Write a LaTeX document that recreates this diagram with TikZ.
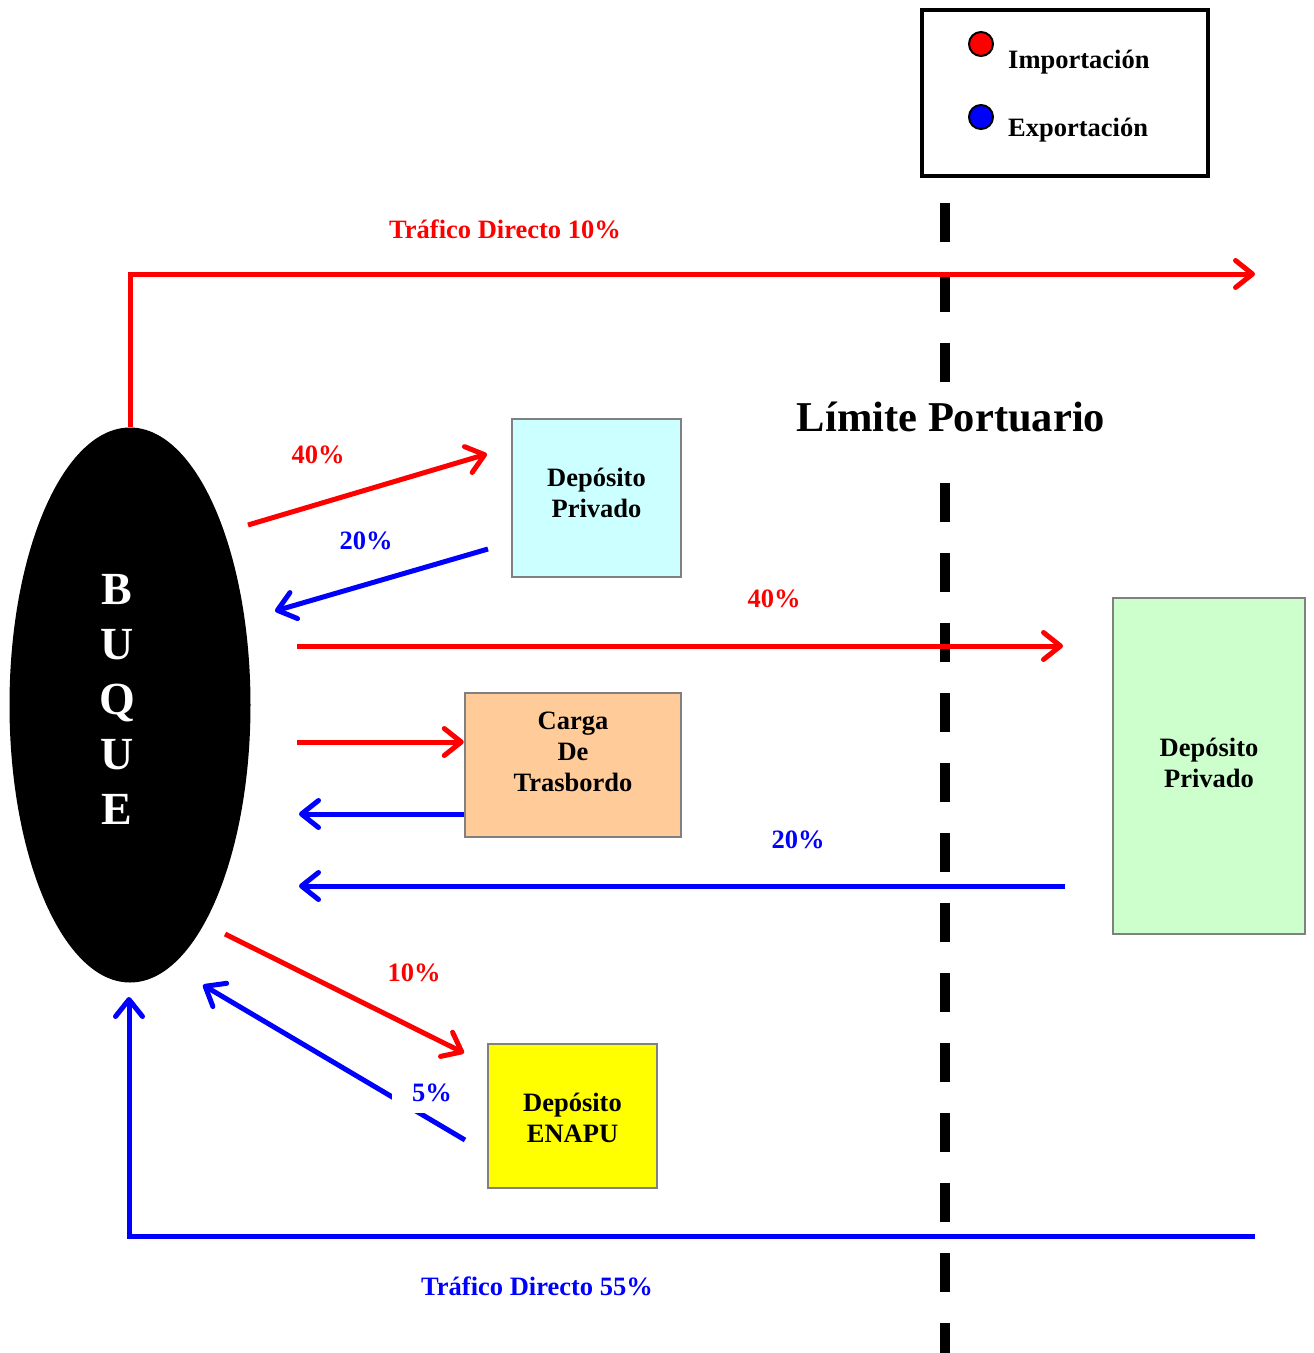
\documentclass[tikz,border=0pt]{standalone}
\usepackage{fontspec}
\setmainfont{Liberation Serif}
\usetikzlibrary{shapes.geometric,arrows.meta}
\definecolor{cyanbox}{HTML}{CCFFFF}
\definecolor{peachbox}{HTML}{FFCC99}
\definecolor{greenbox}{HTML}{CCFFCC}
\definecolor{yellowbox}{HTML}{FFFF00}
\definecolor{boxborder}{HTML}{808080}
\definecolor{impred}{HTML}{FF0000}
\definecolor{expblue}{HTML}{0000FF}
\begin{document}
\begin{tikzpicture}[x=1pt,y=-1pt,
  lbl/.style={font=\fontsize{26.5}{31}\selectfont\bfseries, inner sep=0pt},
  boxtxt/.style={font=\fontsize{26.5}{31}\selectfont\bfseries, align=center, inner sep=0pt},
  depbox/.style={draw=boxborder, line width=2.5pt, inner sep=0pt},
  flow/.style={line width=5pt, -{Straight Barb[length=17pt,width=27pt,round]}},
  imp/.style={draw=impred, text=impred},
  exp/.style={draw=expblue, text=expblue}]
\useasboundingbox (0,0) rectangle (1314,1353);

% Legend
\node[draw=black, line width=4.5pt, minimum width=286, minimum height=166, inner sep=0pt] (legend) at (1065,93) {};
\node[circle, fill=impred, draw=black, line width=2pt, minimum size=24, inner sep=0pt] (legimp) at (981,44) {};
\node[circle, fill=expblue, draw=black, line width=2pt, minimum size=24, inner sep=0pt] (legexp) at (981,117) {};
\node[lbl, anchor=base west] (legimptxt) at (1008,68) {Importación};
\node[lbl, anchor=base west] (legexptxt) at (1008,136) {Exportación};

% Port limit
\draw[line width=10pt, dash pattern=on 39pt off 31pt] (945,203) -- (945,386);
\draw[line width=10pt, dash pattern=on 39pt off 31pt] (945,483) -- (945,1353);
\node[font=\fontsize{42.5}{50}\selectfont\bfseries, inner sep=0pt, anchor=base] (limite) at (951,431) {Límite Portuario};

% Ship
\node[ellipse, fill=black, minimum width=241, minimum height=555, inner sep=0pt] (buque) at (130,705) {};
\node[text=white, font=\fontsize{46}{55}\selectfont\bfseries, align=center, inner sep=0pt] (buquetxt) at (117,699) {B\\U\\Q\\U\\E};

% Boxes
\node[depbox, fill=cyanbox, minimum width=169, minimum height=158] (dp1) at (596.5,498) {};
\node[boxtxt] (dp1txt) at (596.5,493) {Depósito\\Privado};
\node[depbox, fill=peachbox, minimum width=216, minimum height=144] (carga) at (573,765) {};
\node[boxtxt] (cargatxt) at (573,752) {Carga\\De\\Trasbordo};
\node[depbox, fill=greenbox, minimum width=192, minimum height=336] (dp2) at (1209,766) {};
\node[boxtxt] (dp2txt) at (1209,763) {Depósito\\Privado};
\node[depbox, fill=yellowbox, minimum width=169, minimum height=144] (enapu) at (572.5,1116) {};
\node[boxtxt] (enaputxt) at (572.5,1118) {Depósito\\ENAPU};

% Free ends
\coordinate (t10end) at (1255,274);
\coordinate (a40s) at (248,525);
\coordinate (a40e) at (487,454);
\coordinate (b20s) at (488,549);
\coordinate (b20e) at (275,611);
\coordinate (r40s) at (297,646);
\coordinate (r40e) at (1063,646);
\coordinate (rcs) at (297,742);
\coordinate (bce) at (299,814);
\coordinate (b20ls) at (1065,886);
\coordinate (b20le) at (299,886);
\coordinate (r10s) at (225,934);
\coordinate (r10e) at (464,1053);
\coordinate (b5s) at (465,1140);
\coordinate (b5e) at (203,985);
\coordinate (b55s) at (1255,1236);
\coordinate (b55e) at (129,997);

% Import flows (red)
\draw[flow, imp] (buque.north) |- (t10end);
\draw[flow, imp] (a40s) -- (a40e);
\draw[flow, imp] (r40s) -- (r40e);
\draw[flow, imp] (rcs) -- (rcs -| carga.west);
\draw[flow, imp] (r10s) -- (r10e);

% Export flows (blue)
\draw[flow, exp] (b20s) -- (b20e);
\draw[flow, exp] (bce -| carga.west) -- (bce);
\draw[flow, exp] (b20ls) -- (b20le);
\draw[flow, exp] (b5s) -- (b5e);
\draw[flow, exp] (b55s) -| (b55e);

% Labels
\node[lbl, text=impred] (lt10) at (505,229) {Tráfico Directo 10\%};
\node[lbl, text=impred] (l40a) at (318,455) {40\%};
\node[lbl, text=expblue] (l20a) at (366,541) {20\%};
\node[lbl, text=impred] (l40b) at (774,599) {40\%};
\node[lbl, text=expblue] (l20b) at (798,840) {20\%};
\node[lbl, text=impred] (l10) at (414,973) {10\%};
\node[lbl, text=expblue, fill=white, minimum width=80, minimum height=40] (l5) at (432,1093) {5\%};
\node[lbl, text=expblue] (lt55) at (537,1286) {Tráfico Directo 55\%};
\end{tikzpicture}
\end{document}
